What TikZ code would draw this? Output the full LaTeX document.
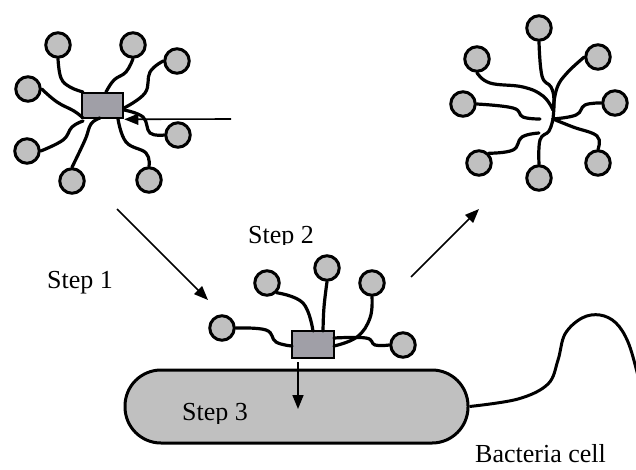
\documentclass[tikz,border=0pt]{standalone}
\usepackage{fontspec}
\setmainfont{Liberation Serif}
\usetikzlibrary{arrows.meta}
\definecolor{headgray}{HTML}{C0C0C0}
\definecolor{boxgray}{HTML}{A09FA7}
\begin{document}
\begin{tikzpicture}[x=1pt,y=-1pt,
  head/.style={circle,draw=black,line width=3pt,fill=headgray,minimum size=24.5pt,inner sep=0pt},
  core/.style={draw=black,line width=2.6pt,fill=boxgray,inner sep=0pt},
  tail/.style={line width=3.2pt,line cap=round},
  flow/.style={line width=1.6pt,-{Triangle[length=14pt,width=11pt]}},
  label/.style={anchor=base west,inner sep=0pt,font=\fontsize{26}{30}\selectfont}]
\useasboundingbox (0,0) rectangle (636,469);

% ---- free micelle (upper left) ----
\node[core,minimum width=41pt,minimum height=25pt] (bl) at (102.5,105.5) {};
\node[head] (a1) at (58,45) {};
\node[head] (a2) at (133,45) {};
\node[head] (a3) at (177,61) {};
\node[head] (a4) at (28,89) {};
\node[head] (a5) at (178,135) {};
\node[head] (a6) at (27,151) {};
\node[head] (a7) at (72,181) {};
\node[head] (a8) at (149,180) {};
\draw[tail] plot[smooth,tension=0.7] coordinates {(a1.south) (61,78) (70,87) (83,92)};
\draw[tail] plot[smooth,tension=0.7] coordinates {(a2.south) (126,72) (114,80) (106,92)};
\draw[tail] plot[smooth,tension=0.7] coordinates {(a3.west) (150,72) (145,93) (124,108)};
\draw[tail] plot[smooth,tension=0.7] coordinates {(a4.east) (57,102) (74,111) (83,118)};
\draw[tail] plot[smooth,tension=0.7] coordinates {(a5.west) (150,133) (143,117) (124,110)};
\draw[tail] plot[smooth,tension=0.7] coordinates {(a6.east) (63,140) (72,127) (83,121)};
\draw[tail] plot[smooth,tension=0.7] coordinates {(a7.north) (85,140) (91,124) (100,118)};
\draw[tail] plot[smooth,tension=0.7] coordinates {(a8.north) (146,153) (126,142) (118,119)};
\coordinate (push) at (231,119);
\draw[flow] (push) -- (bl.south east);

% ---- released micelle (upper right) ----
\coordinate (ctr) at (553,119);
\node[head] (b1) at (539,28) {};
\node[head] (b2) at (477,59) {};
\node[head] (b3) at (598,57) {};
\node[head] (b4) at (463,104) {};
\node[head] (b5) at (615,103) {};
\node[head] (b6) at (479,163) {};
\node[head] (b7) at (539,178) {};
\node[head] (b8) at (598,163) {};
\draw[tail] plot[smooth,tension=0.7] coordinates {(b1.south) (542,76) (551,87) (554,100) (ctr)};
\draw[tail] plot[smooth,tension=0.7] coordinates {(b2.south) (490,83) (523,87) (543,96) (553,110)};
\draw[tail] plot[smooth,tension=0.7] coordinates {(b3.west) (567,73) (557,88) (553,110)};
\draw[tail] plot[smooth,tension=0.7] coordinates {(b4.east) (513,108) (523,117) (540,119)};
\draw[tail] plot[smooth,tension=0.7] coordinates {(b5.west) (585,105) (576,115) (ctr)};
\draw[tail] plot[smooth,tension=0.7] coordinates {(b6.north east) (513,150) (522,137) (539,133)};
\draw[tail] plot[smooth,tension=0.7] coordinates {(b7.north) (540,140) (549,131) (ctr)};
\draw[tail] plot[smooth,tension=0.7] coordinates {(b8.north) (597,136) (573,127) (ctr)};

% ---- bacterium with flagellum ----
\node[draw=black,line width=3pt,fill=headgray,rounded corners=36pt,
      minimum width=343pt,minimum height=73pt,inner sep=0pt] (cell) at (296.5,406.5) {};
\draw[line width=3pt] plot[smooth,tension=0.6] coordinates
  {(cell.east) (518,399) (548,384) (558,360) (565,334) (582,318) (600,315) (616,323) (628,342) (637,372) (642,395)};

% ---- micelle docked on the cell ----
\node[core,minimum width=42pt,minimum height=27pt] (bm) at (313,344.5) {};
\node[head] (m1) at (222,328) {};
\node[head] (m2) at (267,283) {};
\node[head] (m3) at (327,268) {};
\node[head] (m4) at (372,283) {};
\node[head] (m5) at (403,345) {};
\draw[tail] plot[smooth,tension=0.7] coordinates {(m1.east) (266,330) (276,342) (292,346)};
\draw[tail] plot[smooth,tension=0.7] coordinates {(m2.south east) (303,303) (313,331)};
\draw[tail] plot[smooth,tension=0.7] coordinates {(m3.south) (324,307) (323,331)};
\draw[tail] plot[smooth,tension=0.7] coordinates {(m4.south) (370,318) (357,337) (334,346)};
\draw[tail] plot[smooth,tension=0.7] coordinates {(334,338) (366,338) (375,345) (m5.west)};
\coordinate (in1) at (298,362);
\coordinate (in2) at (298,409);
\draw[flow] (in1) -- (in2);

% ---- step arrows ----
\coordinate (s1a) at (117,209);
\coordinate (s1b) at (208,300);
\draw[flow] (s1a) -- (s1b);
\coordinate (s2a) at (411,277);
\coordinate (s2b) at (479,209);
\draw[flow] (s2a) -- (s2b);

% ---- labels ----
\node[label] (t1) at (47,288) {Step 1};
\begin{scope}
  \clip (240,215) rectangle (330,244);
  \node[label] (t2) at (248,243) {Step 2};
\end{scope}
\begin{scope}
  \clip (175,395) rectangle (260,423);
  \node[label] (t3) at (182,420) {Step 3};
\end{scope}
\node[label] (t4) at (475,462) {Bacteria cell};
\end{tikzpicture}
\end{document}
